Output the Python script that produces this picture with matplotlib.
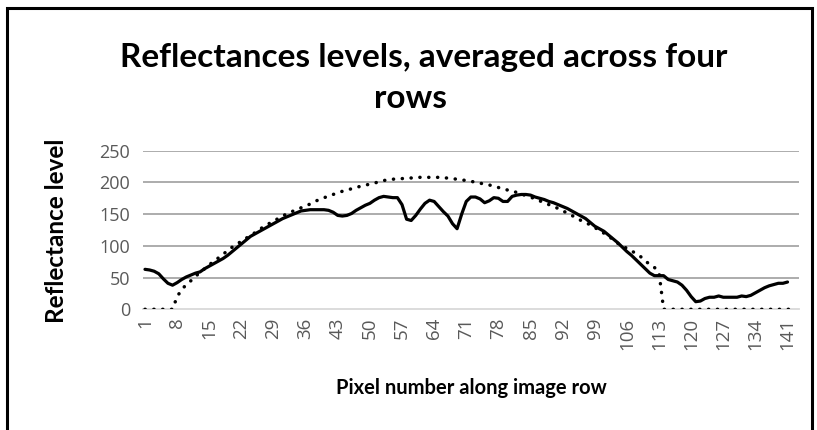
import matplotlib
matplotlib.use("Agg")
import matplotlib.pyplot as plt

pixels = list(range(1, 144))

measured = [63, 62, 60, 56, 48, 41, 38, 42, 47, 51,
            54, 57, 59, 64, 68, 72, 76, 80, 85, 91,
            97, 103, 109, 115, 119, 123, 127, 131, 135, 139,
            143, 146, 149, 152, 155, 156, 157, 157, 157, 157,
            156, 153, 148, 147, 148, 151, 156, 160, 164, 167,
            172, 176, 178, 177, 176, 176, 165, 142, 140, 148,
            158, 167, 172, 170, 162, 154, 147, 135, 127, 150,
            170, 177, 177, 174, 168, 171, 176, 175, 170, 170,
            178, 180, 181, 181, 180, 177, 175, 173, 170, 168,
            165, 162, 159, 155, 151, 147, 143, 137, 131, 127,
            123, 117, 111, 105, 98, 91, 85, 78, 71, 64,
            57, 53, 53, 53, 47, 45, 43, 38, 30, 20,
            12, 13, 17, 19, 19, 21, 19, 19, 19, 19,
            21, 20, 22, 26, 30, 34, 37, 39, 41, 41,
            43]

model = [0, 0, 0, 0, 0, 0, 0, 20, 31, 39,
         45, 52, 58, 64, 70, 76, 81, 87, 92, 98,
         103, 107, 112, 116, 121, 126, 131, 135, 139, 143,
         147, 151, 154, 157, 160, 163, 166, 170, 173, 176,
         178, 181, 184, 186, 188, 190, 192, 194, 196, 197,
         199, 201, 203, 204, 205, 206, 206, 207, 207, 208,
         208, 208, 208, 208, 208, 207, 207, 206, 205, 204,
         203, 202, 200, 199, 197, 196, 194, 192, 190, 188,
         187, 184, 182, 179, 177, 174, 171, 168, 165, 162,
         159, 155, 152, 148, 144, 140, 137, 133, 129, 124,
         120, 115, 110, 104, 100, 96, 92, 88, 83, 76,
         71, 66, 58, 0, 0, 0, 0, 0, 0, 0,
         0, 0, 0, 0, 0, 0, 0, 0, 0, 0,
         0, 0, 0, 0, 0, 0, 0, 0, 0, 0,
         0, 0, 0]

x_ticks = list(range(1, 144, 7))
y_ticks = [0, 50, 100, 150, 200, 250]

title_lines = ["Reflectances levels, averaged across four", "rows"]
x_label = "Pixel number along image row"
y_label = "Reflectance level"

W, H = 817, 430
fig = plt.figure(figsize=(W / 100, H / 100), dpi=100)
fig.patch.set_facecolor("white")

ax = fig.add_axes([142.7 / W, 1 - 309.3 / H, (799 - 142.7) / W, (309.3 - 150.7) / H])

ax.plot(pixels[:len(measured)], measured, color="black", lw=2.3,
        solid_joinstyle="round", solid_capstyle="round", zorder=3)
ax.plot(pixels, model, color="black", lw=2.5, linestyle=(0, (0.05, 2.5)),
        dash_capstyle="round", zorder=3)

ax.set_xlim(0.5, 143.5)
ax.set_ylim(0, 250)
ax.set_yticks(y_ticks)
ax.set_xticks(x_ticks)
tick_font = "Open Sans"
ax.set_xticklabels([str(t) for t in x_ticks], rotation=90, fontsize=13.5,
                   color="#595959", family=tick_font)
ax.set_yticklabels([str(t) for t in y_ticks], fontsize=13,
                   color="#595959", family=tick_font)
ax.tick_params(axis="both", length=0)
ax.tick_params(axis="x", pad=6)
ax.tick_params(axis="y", pad=9)

for v in y_ticks[1:]:
    ax.axhline(v, color="#a6a6a6", lw=1.3, zorder=1)
for s in ["top", "right", "left"]:
    ax.spines[s].set_visible(False)
ax.spines["bottom"].set_color("#d9d9d9")
ax.spines["bottom"].set_linewidth(1.3)

fig.text(424 / W, 1 - 58 / H, title_lines[0],
         ha="center", va="center", fontsize=24, fontweight="bold", family="Lato")
fig.text(410 / W, 1 - 98 / H, title_lines[1],
         ha="center", va="center", fontsize=24, fontweight="bold", family="Lato")

fig.text(57 / W, 1 - 231 / H, y_label, rotation=90, ha="center", va="center",
         fontsize=17.5, fontweight="bold", family="Lato")
fig.text(471 / W, 1 - 388 / H, x_label, ha="center", va="center",
         fontsize=14.5, fontweight="bold", family="Lato")

# outer chart border
border = plt.Rectangle((7 / W, -0.05), (812 - 7) / W, (430 + 0.05 * H - 8) / H,
                       transform=fig.transFigure, fill=False, edgecolor="black",
                       lw=2.2, zorder=10)
fig.patches.append(border)

fig.savefig("out.png", dpi=100, facecolor="white")
